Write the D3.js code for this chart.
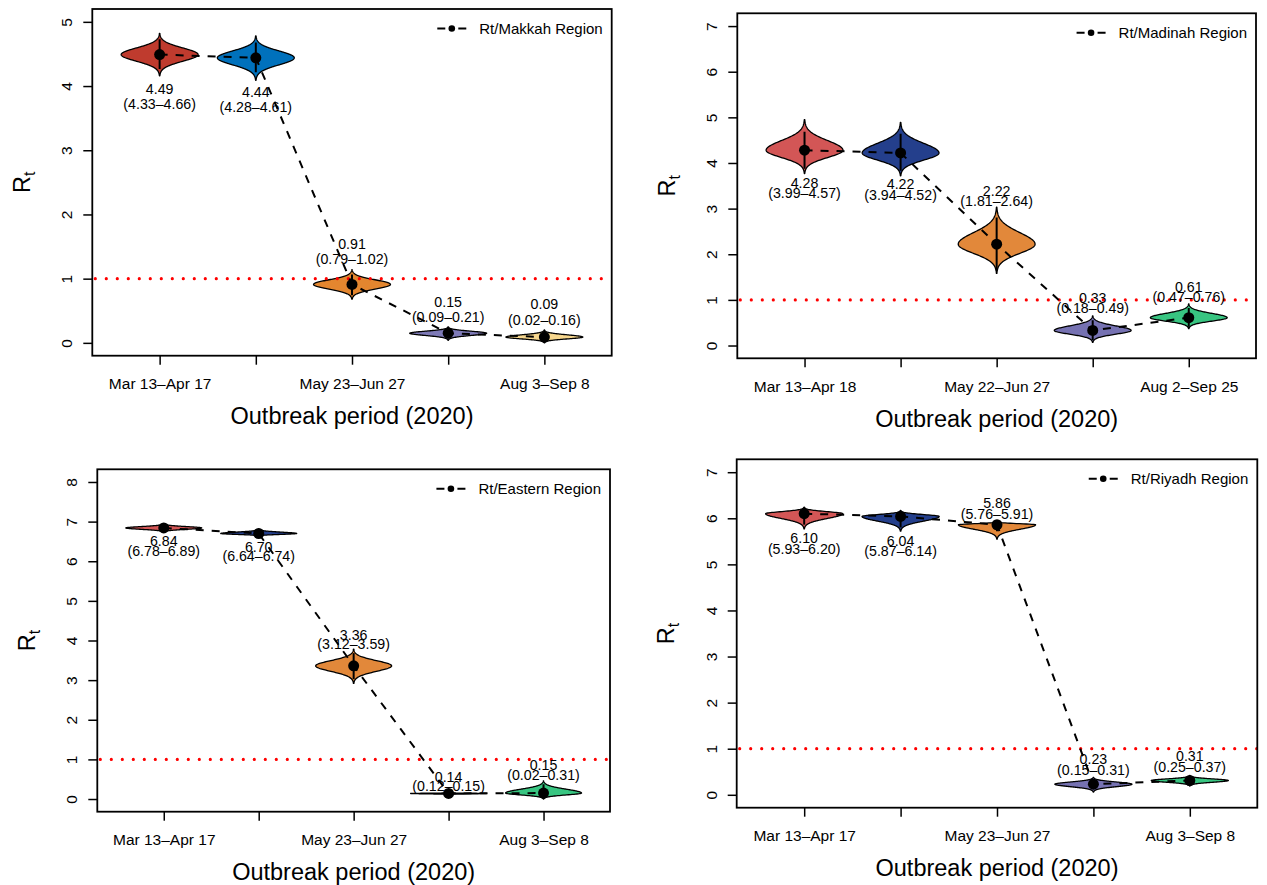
<!DOCTYPE html>
<html>
<head>
<meta charset="utf-8">
<script src="https://cdn.jsdelivr.net/npm/d3@7"></script>
<style>
  body { margin: 0; background: #fff; }
  text { font-family: "Liberation Sans", Arial, Helvetica, sans-serif; fill: #000; }
</style>
</head>
<body>
<svg id="chart" width="1267" height="885"></svg>
<script>
// ---- data ---------------------------------------------------------------
const periods = [1, 2, 3, 4, 5];
const tickLabels = ["Mar 13–Apr 17", "", "May 23–Jun 27", "", "Aug 3–Sep 8"];
const tickLabelsMadinah = ["Mar 13–Apr 18", "", "May 22–Jun 27", "", "Aug 2–Sep 25"];

// Rt: posterior mean, 95% interval, and sample range (violin extent)
const makkahRt  = [4.49, 4.44, 0.91, 0.15, 0.09];
const makkahLo  = [4.33, 4.28, 0.79, 0.09, 0.02];
const makkahHi  = [4.66, 4.61, 1.02, 0.21, 0.16];
const makkahMin = [4.16, 4.09, 0.68, 0.04, 0.00];
const makkahMax = [4.82, 4.78, 1.14, 0.25, 0.20];

const madinahRt  = [4.28, 4.22, 2.22, 0.33, 0.61];
const madinahLo  = [3.99, 3.94, 1.81, 0.18, 0.47];
const madinahHi  = [4.57, 4.52, 2.64, 0.49, 0.76];
const madinahMin = [3.77, 3.72, 1.58, 0.07, 0.37];
const madinahMax = [4.95, 4.89, 3.03, 0.65, 0.91];

const easternRt  = [6.84, 6.70, 3.36, 0.14, 0.15];
const easternLo  = [6.78, 6.64, 3.12, 0.12, 0.02];
const easternHi  = [6.89, 6.74, 3.59, 0.15, 0.31];
const easternMin = [6.73, 6.63, 2.92, 0.11, 0.00];
const easternMax = [6.95, 6.81, 3.78, 0.16, 0.46];

const riyadhRt  = [6.10, 6.04, 5.86, 0.23, 0.31];
const riyadhLo  = [5.93, 5.87, 5.76, 0.15, 0.25];
const riyadhHi  = [6.20, 6.14, 5.91, 0.31, 0.37];
const riyadhMin = [5.77, 5.72, 5.55, 0.06, 0.19];
const riyadhMax = [6.24, 6.17, 5.93, 0.38, 0.42];

const legendNames = ["Rt/Makkah Region", "Rt/Madinah Region", "Rt/Eastern Region", "Rt/Riyadh Region"];
const threshold = 1;

// ---- layout ---------------------------------------------------------------
const palettes = [
  ["#BF3B2E", "#0071BC", "#E3862F", "#7E7AB7", "#F7D78E"],
  ["#D35656", "#243F8C", "#E2883A", "#7672B2", "#38C581"],
  ["#D35656", "#243F8C", "#E2883A", "#7672B2", "#38C581"],
  ["#D35656", "#243F8C", "#E2883A", "#7672B2", "#38C581"]
];
// height (in Rt units) of the estimate text for each violin
const labelAt = [
  [3.95, 3.91, 1.545, 0.634, 0.598],
  [3.567, 3.532, 3.392, 1.05, 1.291],
  [6.498, 6.356, 4.139, 0.556, 0.852],
  [5.572, 5.514, 6.334, 0.768, 0.834]
];

const panels = [
  { box: [92.3, 611.7, 9, 355.7],      ymax: 5, rt: makkahRt,  lo: makkahLo,  hi: makkahHi,  mn: makkahMin,  mx: makkahMax,  ticks: tickLabels },
  { box: [737.3, 1256, 13.3, 358.3],   ymax: 7, rt: madinahRt, lo: madinahLo, hi: madinahHi, mn: madinahMin, mx: madinahMax, ticks: tickLabelsMadinah },
  { box: [97.3, 610, 469.3, 811.7],    ymax: 8, rt: easternRt, lo: easternLo, hi: easternHi, mn: easternMin, mx: easternMax, ticks: tickLabels },
  { box: [736.7, 1257.3, 459.3, 807.7], ymax: 7, rt: riyadhRt, lo: riyadhLo,  hi: riyadhHi,  mn: riyadhMin,  mx: riyadhMax,  ticks: tickLabels }
];

const svg = d3.select("#chart");
svg.append("rect").attr("width", 1267).attr("height", 885).attr("fill", "#fff");

const fmt = d3.format(".2f");
const HALF_WIDTH = 0.4;   // violin half-width in period units
const TAIL = 3.2;         // tail length in standard deviations

panels.forEach((p, pi) => {
  const [x0, x1, y0, y1] = p.box;
  const x = d3.scaleLinear().domain([0.3, 5.7]).range([x0, x1]);
  const y = d3.scaleLinear().domain([-0.04 * p.ymax, 1.04 * p.ymax]).range([y1, y0]);
  const g = svg.append("g");
  const clipId = "clip" + pi;
  g.append("clipPath").attr("id", clipId)
    .append("rect").attr("x", x0).attr("y", y0).attr("width", x1 - x0).attr("height", y1 - y0);
  const plot = g.append("g").attr("clip-path", `url(#${clipId})`);

  // violins
  const area = d3.area()
    .y(d => y(d.v))
    .x0(d => x(d.c - d.w))
    .x1(d => x(d.c + d.w))
    .curve(d3.curveLinear);
  periods.forEach((c, i) => {
    const m = p.rt[i], a = p.mn[i], b = p.mx[i];
    const sBot = (m - a) / TAIL, sTop = (b - m) / TAIL;
    const vs = d3.range(0, 121).map(k => a + (b - a) * k / 120).concat([m]).sort((u, v) => u - v);
    const prof = vs.map(v => {
      const z = v < m ? (v - m) / sBot : (v - m) / sTop;
      return { v, c, w: HALF_WIDTH * Math.exp(-0.5 * z * z) };
    });
    plot.append("path").datum(prof)
      .attr("d", area)
      .attr("fill", palettes[pi][i])
      .attr("stroke", "#000")
      .attr("stroke-width", 1.3)
      .attr("stroke-linejoin", "round");
    // whisker
    const wLo = Math.max(a, m - 1.4 * (m - p.lo[i]));
    const wHi = Math.min(b, m + 1.4 * (p.hi[i] - m));
    plot.append("line")
      .attr("x1", x(c)).attr("x2", x(c))
      .attr("y1", y(wLo)).attr("y2", y(wHi))
      .attr("stroke", "#000").attr("stroke-width", 2);
  });

  // threshold Rt = 1
  plot.append("line")
    .attr("x1", x0 + 3).attr("x2", x1)
    .attr("y1", y(threshold)).attr("y2", y(threshold))
    .attr("stroke", "#FF0000").attr("stroke-width", 3.2)
    .attr("stroke-linecap", "round")
    .attr("stroke-dasharray", "0,11");

  // trend line through the means
  const line = d3.line().x((d, i) => x(periods[i])).y(d => y(d));
  plot.append("path").datum(p.rt)
    .attr("d", line)
    .attr("fill", "none").attr("stroke", "#000")
    .attr("stroke-width", 2).attr("stroke-dasharray", "8,8");

  plot.selectAll("circle.mean").data(p.rt).enter().append("circle")
    .attr("cx", (d, i) => x(periods[i])).attr("cy", d => y(d))
    .attr("r", 5.5).attr("fill", "#000");

  // estimate labels
  periods.forEach((c, i) => {
    const ly = labelAt[pi][i];
    g.append("text").attr("x", x(c)).attr("y", y(ly)).attr("dy", "0.35em")
      .attr("text-anchor", "middle").style("font-size", "14.2px")
      .text(fmt(p.rt[i]));
    g.append("text").attr("x", x(c)).attr("y", y(ly - 0.235)).attr("dy", "0.35em")
      .attr("text-anchor", "middle").style("font-size", "14.2px")
      .text(`(${fmt(p.lo[i])}–${fmt(p.hi[i])})`);
  });

  // box
  g.append("rect").attr("x", x0).attr("y", y0).attr("width", x1 - x0).attr("height", y1 - y0)
    .attr("fill", "none").attr("stroke", "#000").attr("stroke-width", 1.8);

  // y axis
  const yAxis = d3.axisLeft(y).tickValues(d3.range(0, p.ymax + 1)).tickSize(9).tickFormat(d3.format("d"));
  const ya = g.append("g").attr("transform", `translate(${x0},0)`).call(yAxis);
  ya.select(".domain").remove();
  ya.selectAll(".tick line").attr("stroke", "#000").attr("stroke-width", 1.5);
  ya.selectAll(".tick text")
    .attr("x", null).attr("dy", null)
    .attr("transform", "translate(-20,0) rotate(-90)")
    .attr("text-anchor", "middle")
    .style("font-size", "15.5px")
    .style("font-family", '"Liberation Sans", Arial, sans-serif');

  // x axis
  const xAxis = d3.axisBottom(x).tickValues(periods).tickSize(9).tickFormat((d, i) => p.ticks[i]);
  const xa = g.append("g").attr("transform", `translate(0,${y1})`).call(xAxis);
  xa.select(".domain").remove();
  xa.selectAll(".tick line").attr("stroke", "#000").attr("stroke-width", 1.5);
  xa.selectAll(".tick text")
    .attr("y", 33.5).attr("dy", null)
    .style("font-size", "15.5px")
    .style("font-family", '"Liberation Sans", Arial, sans-serif');

  // axis titles
  g.append("text").attr("x", (x0 + x1) / 2).attr("y", y1 + 68.5)
    .attr("text-anchor", "middle").style("font-size", "23.5px")
    .text("Outbreak period (2020)");
  const yt = g.append("text")
    .attr("transform", `translate(${x0 - 62.5},${(y0 + y1) / 2}) rotate(-90)`)
    .attr("text-anchor", "middle").style("font-size", "23.5px");
  yt.append("tspan").text("R");
  yt.append("tspan").attr("dy", "0.3em").style("font-size", "16px").text("t");

  // legend
  const lx = x1 - 9, lyc = y0 + 19.5;
  const lt = g.append("text").attr("x", lx).attr("y", lyc).attr("dy", "0.35em")
    .attr("text-anchor", "end").style("font-size", "15px").text(legendNames[pi]);
  const start = lx - lt.node().getComputedTextLength();
  g.append("line").attr("x1", start - 42).attr("x2", start - 13)
    .attr("y1", lyc).attr("y2", lyc)
    .attr("stroke", "#000").attr("stroke-width", 2).attr("stroke-dasharray", "8,13");
  g.append("circle").attr("cx", start - 27.5).attr("cy", lyc).attr("r", 3.3).attr("fill", "#000");
});
</script>
</body>
</html>
